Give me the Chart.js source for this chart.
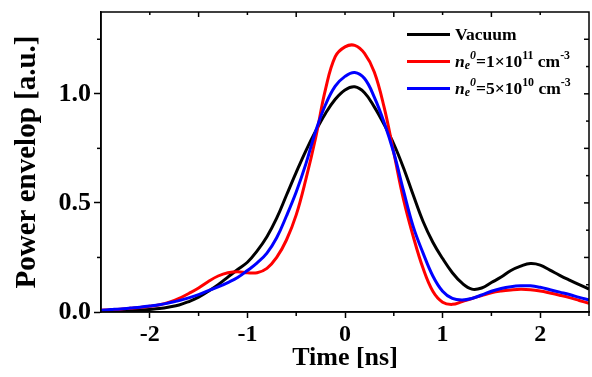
<!DOCTYPE html>
<html>
<head>
<meta charset="utf-8">
<script src="https://cdn.jsdelivr.net/npm/chart.js@4"></script>
<style>
  body { margin: 0; background: #fff; }
  #wrap { position: relative; width: 592px; height: 377px; }
  #legend { position: absolute; left: 407px; top: 21px; font: bold 17.5px "Liberation Serif", serif; color: #000; }
  #legend .row { display: flex; align-items: center; height: 27px; white-space: nowrap; }
  #legend .swatch { display: inline-block; width: 43px; height: 3px; margin-right: 5px; }
  #legend i { font-style: italic; }
  #legend .up { position: relative; top: -0.5em; font-size: 0.68em; }
  #legend .dn { position: relative; top: 0.3em; font-size: 0.68em; }
</style>
</head>
<body>
<div id="wrap">
  <canvas id="chart" width="592" height="377"></canvas>
  <div id="legend">
    <div class="row"><span class="swatch" style="background:#000"></span>Vacuum</div>
    <div class="row"><span class="swatch" style="background:#ff0000"></span><i>n</i><i class="dn">e</i><i class="up">0</i>=1×10<span class="up">11</span>&nbsp;cm<span class="up">-3</span></div>
    <div class="row"><span class="swatch" style="background:#0000ff"></span><i>n</i><i class="dn">e</i><i class="up">0</i>=5×10<span class="up">10</span>&nbsp;cm<span class="up">-3</span></div>
  </div>
</div>
<script>
// time axis (ns), sampled every 0.1 ns
const times = [-2.5, -2.4, -2.3, -2.2, -2.1, -2.0, -1.9, -1.8, -1.7, -1.6,
               -1.5, -1.4, -1.3, -1.2, -1.1, -1.0, -0.9, -0.8, -0.7, -0.6,
               -0.5, -0.4, -0.3, -0.2, -0.1, 0.0, 0.1, 0.2, 0.3, 0.4,
               0.5, 0.6, 0.7, 0.8, 0.9, 1.0, 1.1, 1.2, 1.3, 1.4,
               1.5, 1.6, 1.7, 1.8, 1.9, 2.0, 2.1, 2.2, 2.3, 2.4, 2.5];

const vacuum = [0.003, 0.004, 0.005, 0.007, 0.009, 0.012, 0.016, 0.023, 0.032, 0.048,
                0.068, 0.095, 0.125, 0.160, 0.195, 0.228, 0.280, 0.345, 0.430, 0.535,
                0.640, 0.740, 0.830, 0.910, 0.975, 1.018, 1.032, 1.005, 0.940, 0.860,
                0.770, 0.660, 0.535, 0.415, 0.320, 0.245, 0.180, 0.132, 0.105, 0.110,
                0.135, 0.160, 0.190, 0.210, 0.222, 0.215, 0.192, 0.168, 0.146, 0.125, 0.105];

const dense1e11 = [0.008, 0.010, 0.013, 0.017, 0.021, 0.026, 0.033, 0.045, 0.062, 0.085,
                   0.110, 0.140, 0.165, 0.180, 0.185, 0.180, 0.180, 0.200, 0.250, 0.330,
                   0.445, 0.610, 0.800, 1.020, 1.170, 1.215, 1.222, 1.185, 1.100, 0.940,
                   0.730, 0.515, 0.345, 0.200, 0.095, 0.045, 0.035, 0.048, 0.062, 0.075,
                   0.088, 0.096, 0.101, 0.104, 0.102, 0.096, 0.087, 0.077, 0.066, 0.053, 0.040];

const dense5e10 = [0.008, 0.011, 0.014, 0.018, 0.022, 0.027, 0.033, 0.042, 0.052, 0.065,
                   0.080, 0.098, 0.115, 0.135, 0.158, 0.190, 0.225, 0.270, 0.340, 0.440,
                   0.550, 0.680, 0.830, 0.950, 1.035, 1.080, 1.098, 1.070, 0.985, 0.870,
                   0.730, 0.555, 0.390, 0.270, 0.165, 0.095, 0.062, 0.055, 0.062, 0.078,
                   0.095, 0.108, 0.116, 0.120, 0.120, 0.113, 0.102, 0.091, 0.080, 0.067, 0.055];

// axis ticks
const xMajor = [-2, -1, 0, 1, 2];
const xMinor = [-1.5, -0.5, 0.5, 1.5, 2.5];
const yMajor = [0, 0.5, 1.0];
const yMinor = [0.25, 0.75, 1.25];
const topTicks = [-2, -1.5, -1, -0.5, 0, 0.5, 1, 1.5, 2];
const rightTicks = [0.125, 0.25, 0.375, 0.5, 0.625, 0.75, 0.875, 1.0, 1.125, 1.25];

const font = '"Liberation Serif", "Times New Roman", serif';

const toPoints = vals => times.map((t, i) => ({ x: t, y: vals[i] }));

// frame and the extra tick marks
const framePlugin = {
    id: 'frame',
    afterDraw(chart) {
        const ctx = chart.ctx;
        const { left, right, top, bottom } = chart.chartArea;
        const x = chart.scales.x, y = chart.scales.y;
        ctx.save();
        ctx.strokeStyle = '#000';
        ctx.lineWidth = 1.5;
        ctx.strokeRect(left, top, right - left, bottom - top);
        const line = (x1, y1, x2, y2) => { ctx.beginPath(); ctx.moveTo(x1, y1); ctx.lineTo(x2, y2); ctx.stroke(); };
        xMinor.forEach(v => { const px = x.getPixelForValue(v); line(px, bottom, px, bottom + 4); });
        yMinor.forEach(v => { const py = y.getPixelForValue(v); line(left - 4, py, left, py); });
        topTicks.forEach(v => {
            const px = x.getPixelForValue(v);
            const len = Number.isInteger(v) ? 3 : 5;
            line(px, top, px, top + len);
        });
        rightTicks.forEach((v, i) => {
            const py = y.getPixelForValue(v);
            const len = i % 2 ? 5 : 3;
            line(right - len, py, right, py);
        });
        ctx.restore();
    }
};

new Chart(document.getElementById('chart'), {
    type: 'line',
    data: {
        datasets: [
            { label: 'Vacuum', data: toPoints(vacuum), borderColor: '#000000', order: 2 },
            { label: 'ne0=1×10^11 cm^-3', data: toPoints(dense1e11), borderColor: '#ff0000', order: 1 },
            { label: 'ne0=5×10^10 cm^-3', data: toPoints(dense5e10), borderColor: '#0000ff', order: 0 }
        ]
    },
    options: {
        responsive: false,
        animation: false,
        layout: { padding: { top: 12, right: 3, left: 0, bottom: 0 } },
        elements: {
            line: { borderWidth: 3, tension: 0.4, fill: false },
            point: { radius: 0 }
        },
        plugins: {
            legend: { display: false },
            tooltip: { enabled: false }
        },
        scales: {
            x: {
                type: 'linear',
                min: -2.5,
                max: 2.5,
                afterBuildTicks: scale => { scale.ticks = xMajor.map(v => ({ value: v })); },
                afterFit: scale => { scale.height = 65; scale.paddingLeft = 0; scale.paddingRight = 0; },
                grid: { drawOnChartArea: false, tickLength: 6, tickWidth: 1.5, tickColor: '#000' },
                border: { color: '#000', width: 1.5 },
                ticks: { color: '#000', padding: 2, maxRotation: 0, font: { family: font, size: 24, weight: 'bold' } },
                title: { display: true, text: 'Time [ns]', color: '#000', padding: { top: 0, bottom: 3 }, font: { family: font, size: 26, weight: 'bold' } }
            },
            y: {
                min: 0,
                max: 1.375,
                afterBuildTicks: scale => { scale.ticks = yMajor.map(v => ({ value: v })); },
                afterFit: scale => { scale.width = 101; scale.paddingTop = 0; scale.paddingBottom = 0; },
                grid: { drawOnChartArea: false, tickLength: 7, tickWidth: 1.5, tickColor: '#000' },
                border: { color: '#000', width: 1.5 },
                ticks: { color: '#000', padding: 3, callback: v => v.toFixed(1), font: { family: font, size: 26, weight: 'bold' } },
                title: { display: true, text: 'Power envelop [a.u.]', color: '#000', padding: { top: 10, bottom: 0 }, font: { family: font, size: 29, weight: 'bold' } }
            }
        }
    },
    plugins: [framePlugin]
});
</script>
</body>
</html>
